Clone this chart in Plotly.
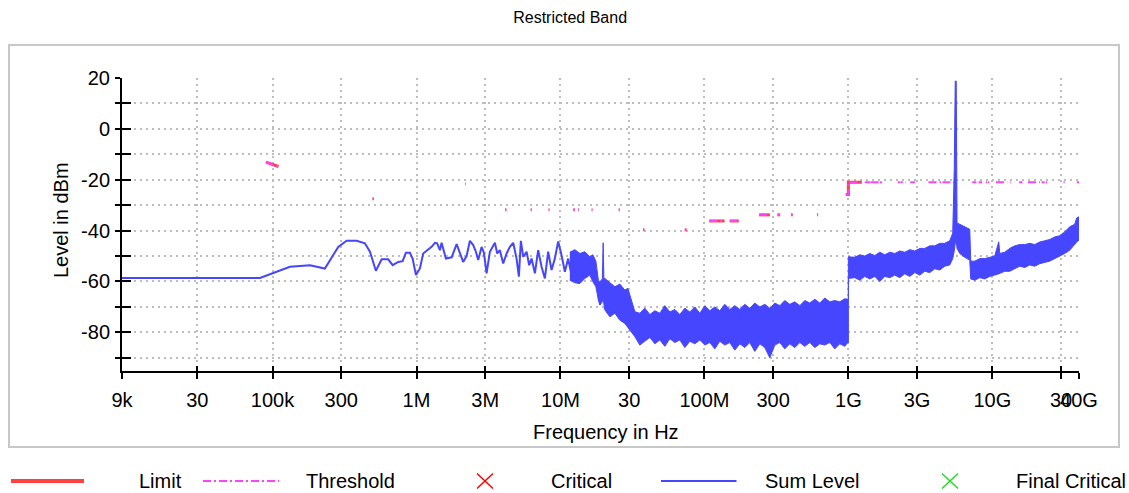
import math
import plotly.graph_objects as go

# ---------------- data ----------------
# Sum level, swept part (Hz, dBm)
sum_freq = [9.0e3, 81.8e3, 132e3, 182e3, 231e3, 286e3, 327e3, 384e3, 438e3, 475e3,
            522e3, 573e3, 636e3, 683e3, 747e3, 801e3, 844e3, 900e3, 940e3, 991e3,
            1.056e6, 1.113e6, 1.187e6, 1.273e6, 1.343e6, 1.392e6, 1.454e6, 1.494e6, 1.600e6, 1.754e6,
            1.900e6, 2.002e6, 2.110e6, 2.228e6, 2.349e6, 2.477e6, 2.586e6, 2.683e6, 2.832e6, 2.938e6,
            3.068e6, 3.234e6, 3.377e6, 3.505e6, 3.636e6, 3.795e6, 4.001e6, 4.226e6, 4.453e6, 4.695e6,
            4.957e6, 5.142e6, 5.309e6, 5.509e6, 5.817e6, 6.064e6, 6.301e6, 6.643e6, 7.002e6, 7.393e6,
            7.793e6, 8.214e6, 8.674e6, 9.143e6, 9.64e6, 10.18e6, 10.73e6, 11.31e6, 11.94e6, 12.59e6,
            13.28e6, 14.01e6, 14.78e6, 15.58e6, 16.45e6, 17.34e6, 18.28e6]
sum_level = [-58.6, -58.6, -54.2, -53.6, -54.9, -46.4, -44.0, -44.0, -45.0, -48.3,
             -55.8, -51.3, -51.3, -53.6, -52.3, -52.0, -48.7, -48.7, -51.0, -57.5,
             -54.9, -49.0, -47.7, -46.4, -44.8, -45.0, -47.7, -44.8, -51.0, -50.5,
             -45.3, -49.0, -52.3, -50.0, -44.0, -45.7, -48.3, -51.6, -46.4, -48.7,
             -56.8, -48.3, -46.4, -44.8, -49.0, -47.7, -52.9, -49.0, -46.4, -44.8,
             -51.0, -58.1, -44.0, -50.3, -48.3, -53.6, -51.0, -56.8, -47.7, -54.2,
             -58.8, -48.3, -55.5, -51.0, -44.3, -49.7, -56.2, -51.0, -57.5, -51.0,
             -60.7, -50.0, -58.1, -50.0, -57.5, -60.1, -63.4]

# Sum level, dense part: upper / lower envelope (Hz, dBm)
band_freq = [11.62e6, 12.59e6, 13.64e6, 14.77e6, 16.00e6, 16.79e6, 17.62e6, 18.33e6, 18.78e6, 19.54e6,
             19.80e6, 20.02e6, 20.34e6, 22.04e6, 23.87e6, 25.85e6, 28.01e6, 29.39e6, 30.34e6, 32.87e6,
             35.60e6, 38.56e6, 41.77e6, 45.24e6, 49.01e6, 53.08e6, 57.52e6, 62.29e6, 67.49e6, 73.10e6,
             79.19e6, 85.79e6, 92.93e6, 100.7e6, 109.0e6, 118.1e6, 127.9e6, 138.6e6, 150.1e6, 162.6e6,
             176.2e6, 190.8e6, 206.7e6, 223.9e6, 242.5e6, 262.7e6, 284.6e6, 308.3e6, 333.9e6, 361.8e6,
             391.9e6, 424.5e6, 459.8e6, 498.1e6, 539.6e6, 584.4e6, 633.1e6, 685.7e6, 742.9e6, 804.7e6,
             871.6e6, 944.2e6, 990.6e6, 1.000e9, 1.000e9, 1.108e9, 1.200e9, 1.300e9, 1.408e9, 1.526e9,
             1.652e9, 1.790e9, 1.939e9, 2.101e9, 2.275e9, 2.465e9, 2.670e9, 2.892e9, 3.133e9, 3.393e9,
             3.676e9, 3.981e9, 4.314e9, 4.672e9, 5.061e9, 5.308e9, 5.438e9, 5.525e9, 5.613e9, 5.687e9,
             5.938e9, 6.434e9, 6.968e9, 7.081e9, 7.548e9, 8.178e9, 8.858e9, 9.595e9, 10.39e9, 11.08e9,
             11.26e9, 12.19e9, 13.21e9, 14.31e9, 15.50e9, 16.79e9, 18.19e9, 19.70e9, 21.34e9, 23.12e9,
             25.04e9, 27.13e9, 29.39e9, 31.83e9, 34.48e9, 37.35e9, 38.56e9, 40.0e9]
band_top = [-48.5, -47.5, -49.0, -48.3, -50.3, -49.5, -52.0, -59.5, -60.1, -59.0,
            -44.8, -58.8, -58.8, -60.5, -62.1, -61.0, -63.4, -62.7, -65.5, -71.9,
            -72.5, -70.5, -73.0, -71.5, -72.5, -69.5, -72.0, -71.0, -73.0, -70.5,
            -72.0, -70.0, -72.5, -69.5, -71.5, -70.0, -71.5, -69.0, -71.0, -69.5,
            -71.0, -69.0, -70.5, -68.5, -70.0, -69.0, -70.5, -68.5, -69.5, -67.5,
            -69.0, -68.0, -69.5, -67.5, -68.5, -67.0, -68.5, -66.5, -68.0, -67.5,
            -68.0, -66.8, -67.0, -67.0, -50.3, -50.5, -49.5, -50.0, -49.0, -49.8,
            -48.5, -49.5, -48.5, -49.0, -48.0, -48.5, -47.5, -48.0, -47.0, -47.0,
            -46.0, -46.0, -45.0, -45.0, -44.0, -41.0, -16.0, 18.8, 18.8, -37.0,
            -37.5, -38.5, -39.5, -52.0, -52.0, -51.0, -51.0, -50.5, -50.0, -44.4,
            -49.0, -48.5, -47.0, -46.0, -45.5, -45.5, -45.0, -45.5, -44.5, -44.0,
            -43.5, -42.5, -42.0, -40.5, -38.5, -37.5, -35.0, -34.6]
band_bottom = [-59.5, -60.5, -60.8, -58.8, -57.5, -60.1, -62.0, -67.3, -69.3, -68.0,
               -66.0, -69.0, -71.2, -73.9, -72.5, -75.2, -76.5, -77.8, -79.1, -81.7,
               -85.0, -83.5, -82.0, -84.5, -83.0, -85.5, -82.5, -84.0, -83.0, -86.0,
               -83.5, -84.5, -83.0, -85.0, -84.0, -86.5, -83.5, -85.0, -84.0, -87.0,
               -84.5, -86.0, -84.0, -87.5, -84.5, -86.0, -90.0, -85.0, -84.0, -86.5,
               -84.5, -86.0, -84.0, -85.5, -84.0, -86.0, -84.5, -85.0, -84.0, -86.5,
               -84.5, -85.5, -84.0, -84.0, -58.8, -58.5, -59.5, -58.0, -59.0, -58.0,
               -60.0, -58.0, -58.5, -57.5, -58.5, -57.0, -58.0, -56.5, -57.5, -56.0,
               -56.5, -55.0, -55.5, -54.0, -53.5, -51.0, -48.0, -45.0, -44.0, -47.0,
               -49.0, -50.5, -51.6, -59.0, -59.5, -58.5, -59.0, -58.0, -57.5, -57.0,
               -57.0, -56.0, -56.0, -55.0, -54.0, -54.5, -53.5, -54.0, -53.0, -52.5,
               -52.0, -51.0, -50.0, -49.0, -47.7, -45.5, -44.5, -43.7]

# Limit (restricted bands below 1.24 GHz), None = gap
limit_freq = [90e3, 100e3, 110e3, None, 495e3, 505e3, None, 2.1735e6, 2.1905e6, None,
              4.125e6, 4.2078e6, None, 6.215e6, 6.3123e6, None, 8.25e6, 8.30e6, None,
              8.36e6, 8.42e6, None, 12.29e6, 12.577e6, None, 13.30e6, 13.45e6, None,
              16.42e6, 16.50e6, None, 16.69e6, 16.81e6, None, 25.4e6, 25.8e6, None,
              37.5e6, 38.25e6, None, 73.0e6, 75.2e6, None, 108e6, 138e6, None,
              149.9e6, 173.2e6, None, 240e6, 285e6, None, 322e6, 335.4e6, None,
              399.9e6, 410e6, None, 606e6, 616e6, None, 960e6, 1.0e9, 1.0e9, 1.24e9]
limit_level = [-13.1, -14.0, -14.8, None, -27.5, -27.5, None, -21.6, -21.6, None,
               -31.8, -31.8, None, -31.8, -31.8, None, -31.8, -31.8, None,
               -31.8, -31.8, None, -31.8, -31.8, None, -31.8, -31.8, None,
               -31.8, -31.8, None, -31.8, -31.8, None, -31.8, -31.8, None,
               -39.7, -39.7, None, -39.7, -39.7, None, -36.2, -36.2, None,
               -36.2, -36.2, None, -33.8, -33.8, None, -33.8, -33.8, None,
               -33.8, -33.8, None, -33.8, -33.8, None, -25.8, -25.8, -21.0, -21.0]

# Threshold above 1.24 GHz (restricted bands, GHz)
ghz_band_start = [1.300, 1.435, 1.6455, 1.660, 1.7188, 2.200, 2.310, 2.4835, 2.690, 3.260,
                  3.332, 3.3458, 3.600, 4.500, 5.350, 7.250, 8.025, 9.000, 9.300, 10.60,
                  13.25, 14.47, 15.35, 17.70, 22.01, 23.60, 31.20, 36.43, 38.60]
ghz_band_stop = [1.4275, 1.6265, 1.6465, 1.710, 1.7222, 2.300, 2.390, 2.500, 2.900, 3.267,
                 3.339, 3.358, 4.400, 5.150, 5.460, 7.750, 8.500, 9.200, 9.500, 12.70,
                 13.40, 14.50, 16.20, 21.40, 23.12, 24.00, 31.80, 36.50, 40.00]
ghz_threshold = -21.0

x_tick_vals = [9e3, 3e4, 1e5, 3e5, 1e6, 3e6, 1e7, 3e7, 1e8, 3e8, 1e9, 3e9, 1e10, 3e10, 4e10]
x_tick_text = ['9k', '30', '100k', '300', '1M', '3M', '10M', '30', '100M', '300',
               '1G', '3G', '10G', '30', '40G']
y_tick_vals = [20, 10, 0, -10, -20, -30, -40, -50, -60, -70, -80, -90]
y_tick_text = ['20', '', '0', '', '-20', '', '-40', '', '-60', '', '-80', '']

# ---------------- styling ----------------
RED = '#ff4040'
MAGENTA = '#ff40ff'
BLUE = '#4646ff'
GREEN = '#22dd22'
FONT = 'Liberation Sans, Arial, sans-serif'

W, H = 1129, 493
L, R, T, B = 122, 50, 78, 122
PW, PH = W - L - R, H - T - B


def px2x(px):
    return (px - L) / PW


def px2y(py):
    return (H - B - py) / PH


thr_freq = list(limit_freq)
thr_level = list(limit_level)
for s, e in zip(ghz_band_start, ghz_band_stop):
    thr_freq += [None, s * 1e9, e * 1e9]
    thr_level += [None, ghz_threshold, ghz_threshold]

fig = go.Figure()

fig.add_trace(go.Scatter(x=limit_freq, y=limit_level, mode='lines', name='Limit',
                         line=dict(color=RED, width=3), connectgaps=False))
fig.add_trace(go.Scatter(x=thr_freq, y=thr_level, mode='lines', name='Threshold',
                         line=dict(color=MAGENTA, width=2, dash='8px,3px,2px,3px'),
                         connectgaps=False))
fig.add_trace(go.Scatter(x=band_freq + band_freq[::-1], y=band_top + band_bottom[::-1],
                         mode='lines', fill='toself', fillcolor=BLUE, name='Sum Level',
                         line=dict(color=BLUE, width=1)))
fig.add_trace(go.Scatter(x=sum_freq, y=sum_level, mode='lines', name='Sum Level',
                         line=dict(color=BLUE, width=2)))
# helper trace for the secondary (inside) tick axes
fig.add_trace(go.Scatter(x=[None], y=[None], xaxis='x2', yaxis='y2', mode='lines',
                         showlegend=False, hoverinfo='skip'))

xr = [math.log10(9e3), math.log10(4e10)]
yr = [-95.2, 20]

grid = dict(showgrid=True, gridcolor='#bdbdbd', gridwidth=1.5, griddash='2px,4px')

fig.update_layout(
    width=W, height=H,
    margin=dict(l=L, r=R, t=T, b=B),
    paper_bgcolor='white', plot_bgcolor='white',
    showlegend=False,
    font=dict(family=FONT, size=20, color='black'),
    title=dict(text='Restricted Band', x=0.505, y=1 - 17 / H, xanchor='center',
               yanchor='middle', font=dict(size=16, color='black')),
    xaxis=dict(type='log', range=xr, tickmode='array', tickvals=x_tick_vals, ticktext=x_tick_text,
               ticks='outside', ticklen=6, tickwidth=2, tickcolor='black', tickangle=0,
               showline=True, linecolor='black', linewidth=2, zeroline=False,
               ticklabelstandoff=4, tickfont=dict(size=20), **grid),
    yaxis=dict(range=yr, tickmode='array', tickvals=y_tick_vals, ticktext=y_tick_text,
               ticks='outside', ticklen=5, tickwidth=2, tickcolor='black',
               showline=True, linecolor='black', linewidth=2, zeroline=False,
               ticklabelstandoff=1, tickfont=dict(size=20), **grid),
    xaxis2=dict(type='log', range=xr, overlaying='x', anchor='y', side='bottom',
                tickmode='array', tickvals=x_tick_vals, ticks='inside', ticklen=5,
                tickwidth=2, tickcolor='black', showticklabels=False, showgrid=False,
                showline=False, zeroline=False),
    yaxis2=dict(range=yr, overlaying='y', anchor='x', side='left',
                tickmode='array', tickvals=y_tick_vals, ticks='inside', ticklen=9,
                tickwidth=2, tickcolor='black', showticklabels=False, showgrid=False,
                showline=False, zeroline=False),
)

annotations = [
    dict(text='Frequency in Hz', x=px2x(606), y=px2y(432), xref='paper', yref='paper',
         xanchor='center', yanchor='middle', showarrow=False, font=dict(size=20)),
    dict(text='Level in dBm', x=px2x(61), y=px2y(220), xref='paper', yref='paper',
         xanchor='center', yanchor='middle', textangle=-90, showarrow=False, font=dict(size=20)),
]
shapes = [
    dict(type='rect', xref='paper', yref='paper', x0=px2x(9), x1=px2x(1119),
         y0=px2y(447), y1=px2y(45), line=dict(color='#c8c8c8', width=2), layer='above'),
]

# manual legend
LEG_Y = 481
legend_items = [
    ('line', 11, 84, RED, 4, 'solid', 'Limit', 137),
    ('line', 203, 279, MAGENTA, 2, '8px,3px,2px,3px', 'Threshold', 304),
    ('x', 477, 493, '#ff0000', 1.5, 'solid', 'Critical', 549),
    ('line', 661, 736.5, BLUE, 2, 'solid', 'Sum Level', 763),
    ('x', 942, 958, GREEN, 1.5, 'solid', 'Final Critical', 1014),
]
for kind, xa, xb, col, wd, dash, label, tx in legend_items:
    if kind == 'line':
        shapes.append(dict(type='line', xref='paper', yref='paper', x0=px2x(xa), x1=px2x(xb),
                           y0=px2y(LEG_Y), y1=px2y(LEG_Y), line=dict(color=col, width=wd, dash=dash)))
    else:
        shapes.append(dict(type='line', xref='paper', yref='paper', x0=px2x(xa), x1=px2x(xb),
                           y0=px2y(LEG_Y - 7.5), y1=px2y(LEG_Y + 7.5), line=dict(color=col, width=wd)))
        shapes.append(dict(type='line', xref='paper', yref='paper', x0=px2x(xa), x1=px2x(xb),
                           y0=px2y(LEG_Y + 7.5), y1=px2y(LEG_Y - 7.5), line=dict(color=col, width=wd)))
    annotations.append(dict(text=label, x=px2x(tx), y=px2y(LEG_Y), xref='paper', yref='paper',
                            xanchor='left', yanchor='middle', showarrow=False, font=dict(size=20)))

fig.update_layout(annotations=annotations, shapes=shapes)

fig.write_html('out.html', config={'displayModeBar': False},
               post_script="document.body.style.margin='0';document.body.style.overflow='hidden';")
